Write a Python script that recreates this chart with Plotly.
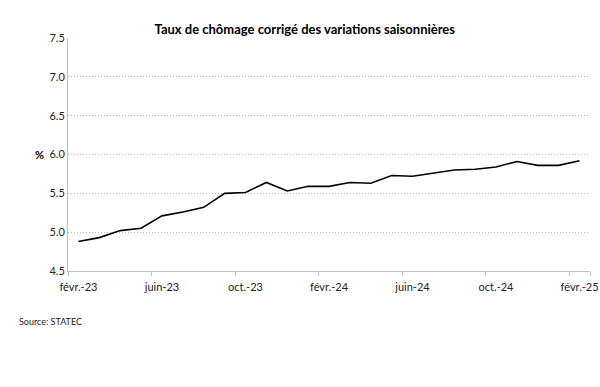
import plotly.graph_objects as go

months = ["févr.-23", "mars-23", "avr.-23", "mai-23", "juin-23", "juil.-23", "août-23", "sept.-23",
          "oct.-23", "nov.-23", "déc.-23", "janv.-24", "févr.-24", "mars-24", "avr.-24", "mai-24",
          "juin-24", "juil.-24", "août-24", "sept.-24", "oct.-24", "nov.-24", "déc.-24", "janv.-25",
          "févr.-25"]
rate = [4.88, 4.93, 5.02, 5.05, 5.21, 5.26, 5.32, 5.50, 5.51, 5.64, 5.53, 5.59, 5.59,
        5.64, 5.63, 5.73, 5.72, 5.76, 5.80, 5.81, 5.84, 5.91, 5.86, 5.86, 5.92]
shown_ticks = ["févr.-23", "juin-23", "oct.-23", "févr.-24", "juin-24", "oct.-24", "févr.-25"]
y_ticks = [4.5, 5.0, 5.5, 6.0, 6.5, 7.0, 7.5]

FONT = "Lato, Open Sans, sans-serif"

fig = go.Figure()
fig.add_trace(go.Scatter(x=months, y=rate, mode="lines",
                         line=dict(color="black", width=1.6), hoverinfo="skip"))

fig.update_layout(
    width=600, height=387,
    margin=dict(l=68, r=10, t=38, b=116),
    paper_bgcolor="white", plot_bgcolor="white",
    showlegend=False,
    font=dict(family=FONT, size=11, color="#222222"),
    title=dict(text="<b>Taux de chômage corrigé des variations saisonnières</b>",
               x=0.508, xanchor="center", y=0.925, yanchor="middle",
               font=dict(family=FONT, size=13, color="black")),
)
fig.update_xaxes(type="category", categoryorder="array", categoryarray=months,
                 range=[-0.5, 24.5], automargin=False,
                 tickvals=shown_ticks, tickson="boundaries", tickangle=0,
                 ticks="outside", ticklen=4, tickcolor="#bfbfbf", ticklabelstandoff=6,
                 showline=True, linecolor="#bfbfbf", linewidth=1,
                 showgrid=False, zeroline=False,
                 tickfont=dict(size=11, color="#222222"))
fig.update_yaxes(range=[4.5, 7.5], tickvals=y_ticks, automargin=False,
                 ticktext=[f"{v:.1f}" for v in y_ticks],
                 ticks="", showline=True, linecolor="#bfbfbf", linewidth=1,
                 showgrid=True, gridcolor="#b8b8b8", griddash="1px,2px", gridwidth=1,
                 zeroline=False, tickfont=dict(size=11, color="#222222"))

fig.add_annotation(text="<b>%</b>", xref="paper", yref="y", x=0, y=6.0,
                   xanchor="right", yanchor="middle", showarrow=False,
                   xshift=-22, font=dict(family=FONT, size=11, color="black"))
fig.add_annotation(text="Source: STATEC", xref="paper", yref="paper",
                   x=-0.098, y=-0.215, xanchor="left", yanchor="middle", showarrow=False,
                   font=dict(family=FONT, size=9, color="#222222"))

fig.write_html("out.html", config={"displayModeBar": False},
               post_script="document.body.style.margin='0';document.body.style.overflow='hidden';")
